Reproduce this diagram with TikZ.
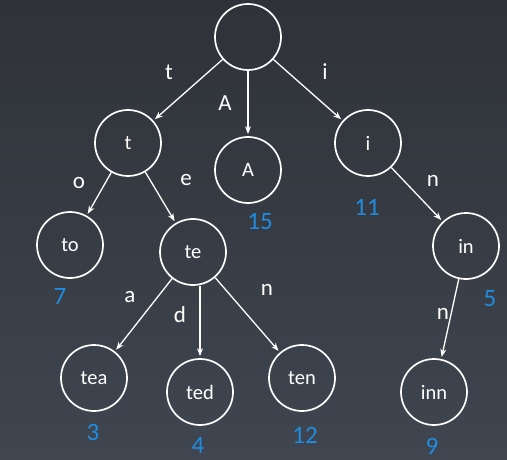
\documentclass[tikz,border=0pt]{standalone}
\usepackage{fontspec}
\setmainfont{Carlito}
\usetikzlibrary{arrows.meta}
\definecolor{bgtop}{HTML}{2F3238}
\definecolor{bgbot}{HTML}{3F4650}
\definecolor{numblue}{HTML}{1F8CE0}
\begin{document}
\begin{tikzpicture}[x=1pt,y=-1pt,
  tnode/.style={circle,draw=white,line width=1.7pt,minimum size=66pt,inner sep=0pt,text=white,font=\fontsize{20.5}{22}\selectfont},
  elabel/.style={text=white,font=\fontsize{23}{24}\selectfont,inner sep=0pt},
  num/.style={text=numblue,font=\fontsize{25}{26}\selectfont,inner sep=0pt},
  edge/.style={draw=white,line width=1.3pt,-{Stealth[length=8pt,width=6pt]},shorten >=2pt}]
\shade[top color=bgtop,bottom color=bgbot] (0,0) rectangle (507,460);
\useasboundingbox (0,0) rectangle (507,460);
% nodes
\node[tnode] (root) at (248,37) {};
\node[tnode] (t) at (128,143) {t};
\node[tnode] (A) at (248,170) {A};
\node[tnode] (i) at (368,143) {i};
\node[tnode] (to) at (70,245) {to};
\node[tnode] (te) at (193,252) {te};
\node[tnode] (in) at (466,246) {in};
\node[tnode] (tea) at (94,378) {tea};
\node[tnode] (ted) at (200,392) {ted};
\node[tnode] (ten) at (302,378) {ten};
\node[tnode] (inn) at (434,392) {inn};
% edges
\draw[edge] (root) -- (t);
\draw[edge] (root) -- (A);
\draw[edge] (root) -- (i);
\draw[edge] (t) -- (to);
\draw[edge] (t) -- (te);
\draw[edge] (i) -- (in);
\draw[edge] (te) -- (tea);
\draw[edge] (te.south -| ted.north) -- (ted.north);
\draw[edge] (te) -- (ten);
\draw[edge] (in) -- (inn);
% edge labels
\node[elabel] (lt) at (169,72) {t};
\node[elabel] (lA) at (225,103) {A};
\node[elabel] (li) at (325,72) {i};
\node[elabel] (lo) at (79,183) {o};
\node[elabel] (le) at (186,180) {e};
\node[elabel] (ln1) at (433,181) {n};
\node[elabel] (la) at (130,297) {a};
\node[elabel] (ld) at (180,315) {d};
\node[elabel] (ln2) at (267,290) {n};
\node[elabel] (ln3) at (443,314) {n};
% numbers
\node[num] (n15) at (260,222) {15};
\node[num] (n11) at (367,207) {11};
\node[num] (n7) at (60,296) {7};
\node[num] (n5) at (490,299) {5};
\node[num] (n3) at (93,432) {3};
\node[num] (n4) at (198,445) {4};
\node[num] (n12) at (305,435) {12};
\node[num] (n9) at (432,446) {9};
\end{tikzpicture}
\end{document}
